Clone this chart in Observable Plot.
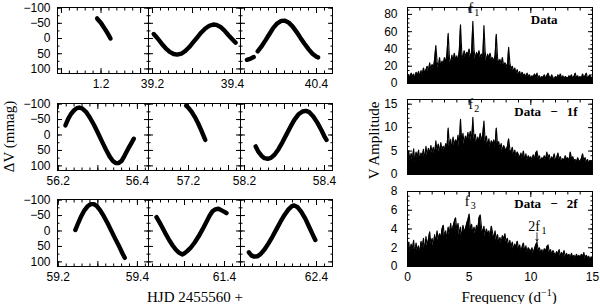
<!DOCTYPE html>
<html><head><meta charset="utf-8">
<script src="https://cdn.jsdelivr.net/npm/d3@7"></script>
<script src="https://cdn.jsdelivr.net/npm/@observablehq/plot@0.6"></script>
<style>
html,body{margin:0;padding:0;background:#fff;}
#chart{position:relative;width:600px;height:304px;overflow:hidden;background:#fff;}
.panel{position:absolute;}
.panel svg{overflow:visible;background:transparent !important;}
.ttl{position:absolute;font-family:"Liberation Serif",serif;font-size:15px;color:#000;white-space:nowrap;line-height:1;}
</style></head><body><div id="chart"></div>
<script>
// ---------- light curve data (HJD - 2455560, dV mmag) ----------
const lcA = [[1.190,-66],[1.196,-57],[1.202,-47],[1.208,-35],[1.214,-23],[1.219,-12],[1.224,0]];
const lcB = [[39.203,-15],[39.213,0],[39.223,17],[39.233,32],[39.243,44],[39.253,51],[39.262,53],[39.272,50],[39.282,41],[39.292,28],[39.302,12],[39.312,-4],[39.322,-20],[39.332,-33],[39.342,-42],[39.352,-46],[39.360,-45],[39.370,-38],[39.380,-26],[39.390,-11],[39.400,3],[39.408,14]];
const lcC = [[40.226,70],[40.234,67],[40.243,61],[40.249,NaN],[40.253,42],[40.262,27],[40.272,7],[40.282,-14],[40.292,-35],[40.302,-50],[40.312,-58],[40.320,-59],[40.330,-53],[40.340,-40],[40.350,-22],[40.360,-2],[40.370,17],[40.380,35],[40.390,50],[40.400,60],[40.404,62]];
const lcD = [[56.218,-31],[56.225,-52],[56.232,-68],[56.240,-80],[56.247,-87],[56.253,-89],[56.260,-86],[56.270,-75],[56.280,-56],[56.290,-33],[56.300,-7],[56.310,20],[56.320,46],[56.330,70],[56.338,84],[56.345,91],[56.352,91],[56.360,84],[56.368,66],[56.376,46],[56.384,28],[56.391,12]];
const lcE = [[57.194,-95],[57.200,-88],[57.208,-75],[57.216,-58],[57.224,-38],[57.232,-15],[57.240,10],[57.242,16]];
const lcF = [[58.228,37],[58.235,55],[58.243,68],[58.250,75],[58.258,77],[58.266,74],[58.275,64],[58.285,46],[58.295,23],[58.305,-2],[58.315,-27],[58.325,-50],[58.335,-67],[58.345,-76],[58.354,-78],[58.362,-74],[58.372,-60],[58.382,-40],[58.392,-16],[58.400,5],[58.405,16]];
const lcG = [[59.243,-3],[59.250,-25],[59.258,-48],[59.266,-67],[59.274,-80],[59.282,-87],[59.290,-87],[59.298,-80],[59.306,-67],[59.315,-48],[59.325,-24],[59.335,2],[59.345,28],[59.355,53],[59.362,72],[59.368,87]];
const lcH = [[61.230,-45],[61.238,-27],[61.246,-8],[61.254,12],[61.262,30],[61.270,46],[61.278,60],[61.286,70],[61.294,76],[61.300,72],[61.306,66],[61.315,55],[61.325,38],[61.335,18],[61.345,-5],[61.355,-30],[61.363,-50],[61.370,-64],[61.377,-70],[61.385,-72],[61.394,-66],[61.400,-62],[61.405,-58]];
const lcI = [[62.231,69],[62.237,79],[62.244,83],[62.252,82],[62.260,75],[62.270,60],[62.280,40],[62.290,18],[62.300,-6],[62.310,-30],[62.320,-52],[62.330,-70],[62.338,-80],[62.344,-83],[62.352,-78],[62.362,-62],[62.372,-40],[62.382,-12],[62.390,10],[62.397,29]];
const lightCurves = [lcA, lcB, lcC, lcD, lcE, lcF, lcG, lcH, lcI];
const lcStarts = [1.09, 39.19, 40.21, 56.198, 57.10, 58.19, 59.198, 61.21, 62.21];
const lcSpan = 0.23;
const lcTickLabels = [[1.2],[39.2,39.4],[40.4],[56.2,56.4],[57.2],[58.2,58.4],[59.2,59.4],[61.4],[62.4]];
const dvDomain = [-102, 115];
const dvTickLabels = [-100, -50, 0, 50, 100];

// ---------- amplitude spectra, 0..15 d^-1 in steps of 0.1 ----------
const freqStep = 0.1;
const ampData = [
 6,10,7,12,8,11,6,13,9,14,
 8,15,10,18,12,16,20,14,24,16,
 22,17,28,44,25,18,30,20,26,22,
 30,24,34,58,30,22,33,26,35,28,
 32,26,38,68,36,28,38,30,36,34,
 40,30,36,72,38,28,36,32,38,30,
 34,28,67,36,26,34,30,35,28,30,
 26,32,57,30,24,28,22,30,20,24,
 22,18,42,24,16,20,14,18,12,16,
 10,14,8,13,9,11,7,12,8,10,
 6,9,7,11,8,12,6,9,5,8,
 7,10,6,9,12,8,6,10,7,5,
 8,6,10,7,11,6,9,5,8,7,
 6,9,7,10,6,8,12,7,9,6,
 8,6,11,7,9,12,6,8,10,7,
 6];
const ampData1f = [
 3.5,5.0,2.8,4.5,3.2,5.5,2.5,4.8,3.6,5.2,
 3.0,4.6,3.8,5.4,3.2,6.0,4.0,5.6,4.4,6.2,
 4.6,5.8,4.2,7.2,5.0,6.5,4.6,6.8,5.4,6.0,
 5.2,6.6,5.6,9.9,6.0,7.5,5.4,8.0,6.2,7.4,
 6.6,8.4,6.0,11.8,7.0,8.8,6.4,8.2,7.2,9.0,
 7.6,9.2,6.8,12.2,7.4,8.6,6.6,8.0,7.0,8.8,
 7.2,8.4,11.4,7.0,8.2,6.2,7.6,5.8,7.2,6.4,
 7.4,6.0,9.9,6.4,7.0,5.4,6.6,5.0,6.2,5.6,
 5.2,6.0,7.6,5.4,4.6,5.8,4.2,5.2,3.8,4.8,
 4.2,3.6,4.6,3.4,5.0,3.2,4.4,3.0,4.0,3.4,
 3.8,3.0,4.2,3.2,4.6,5.0,3.4,4.0,2.8,3.6,
 3.2,4.0,3.0,4.8,3.6,4.2,2.8,3.8,3.2,4.4,
 3.0,3.6,4.6,3.2,3.8,2.8,3.4,3.0,4.0,3.2,
 3.6,2.8,4.8,3.4,3.8,3.0,3.2,2.6,3.6,3.0,
 2.8,3.4,4.4,3.0,3.6,2.6,3.2,2.4,3.0,2.8,
 2.6];
const ampData2f = [
 2.0,2.6,1.5,2.4,1.8,2.8,1.2,2.5,1.7,2.2,
 1.4,2.7,2.0,3.0,1.6,3.2,2.2,2.9,3.7,2.4,
 3.0,2.2,3.4,2.6,3.8,2.8,3.5,3.0,4.0,4.4,
 3.2,3.8,2.9,4.2,3.4,4.6,3.6,4.3,4.8,5.2,
 3.9,4.6,3.4,4.2,3.0,4.4,3.8,4.0,4.6,5.0,
 5.6,4.0,4.5,3.6,4.2,3.5,4.4,3.9,5.2,5.5,
 4.2,3.6,4.3,3.2,4.0,3.5,3.8,3.2,4.3,3.6,
 3.0,3.8,2.8,3.4,2.6,3.1,2.5,3.3,2.9,3.5,
 2.6,3.0,2.2,2.8,2.0,2.6,1.8,2.4,2.1,2.7,
 1.9,2.3,1.6,2.1,2.5,1.7,2.2,1.5,2.0,1.8,
 1.6,2.0,1.4,1.9,2.3,2.6,1.7,2.0,1.5,1.8,
 1.4,1.9,1.6,2.1,2.3,1.5,1.8,1.3,1.7,1.4,
 1.2,1.6,1.3,1.8,1.1,1.5,1.2,1.7,1.0,1.4,
 1.1,1.3,0.9,1.4,1.0,1.2,0.8,1.3,1.0,1.2,
 0.9,1.3,1.0,1.5,0.8,1.2,0.9,1.1,0.7,1.0,
 0.9];
const spectra = [ampData, ampData1f, ampData2f];
const spectrumNames = ["Data", "Data\u2002\u2009\u2212\u2002\u20091f", "Data\u2002\u2009\u2212\u2002\u20092f"];
const ampDomains = [[0, 88], [0, 16], [0, 8]];
const ampTickLabels = [[0,20,40,60,80],[0,5,10,15],[0,2,4,6,8]];
const ampMinorStep = [5, 1, 0.5];
const freqTickLabels = [0, 5, 10, 15];
// peak annotations: [frequency, amplitude, name, subscript]
const peakNotes = [[[5.3, 72, "f", "1"]], [[5.3, 12.2, "f", "2"]], [[5.0, 5.6, "f", "3"]]];
const harmonicNote = [10.5, 2.6, "2f", "1"];

// ---------- layout ----------
const leftCols = [57, 148, 240, 332];
const leftRows = [[7, 73], [103, 170], [199, 266]];
const rightCols = [407, 592];
const rightRows = [[7, 83], [99, 174], [191, 266]];

const chart = document.getElementById("chart");
const fmtSigned = d => d < 0 ? "\u2212" + Math.abs(d) : String(d);
function place(svg, left, top, w, h) {
  const d = document.createElement("div");
  d.className = "panel";
  d.style.left = left + "px"; d.style.top = top + "px";
  d.style.width = w + "px"; d.style.height = h + "px";
  d.appendChild(svg);
  chart.appendChild(d);
}
function boxTicks(xMajor, xMinor, yMajor, yMinor) {
  const m = [];
  for (const anchor of ["top", "bottom"]) {
    m.push(Plot.axisX({anchor, ticks: xMinor, tickSize: -2.5, tickFormat: () => "", label: null}));
    m.push(Plot.axisX({anchor, ticks: xMajor, tickSize: -5, tickFormat: () => "", label: null}));
  }
  for (const anchor of ["left", "right"]) {
    m.push(Plot.axisY({anchor, ticks: yMinor, tickSize: -2.5, tickFormat: () => "", label: null}));
    m.push(Plot.axisY({anchor, ticks: yMajor, tickSize: -5, tickFormat: () => "", label: null}));
  }
  return m;
}

// ---------- light-curve panels ----------
lightCurves.forEach((lc, i) => {
  const r = Math.floor(i / 3), c = i % 3;
  const x0 = leftCols[c], x1 = leftCols[c + 1];
  const [y0, y1] = leftRows[r];
  const w = x1 - x0, h = y1 - y0;
  const dom = [lcStarts[i], lcStarts[i] + lcSpan];
  const xMajor = d3.range(Math.ceil(dom[0] * 10 - 1e-6), Math.floor(dom[1] * 10 + 1e-6) + 1).map(k => k / 10);
  const xMinor = d3.range(Math.ceil(dom[0] * 50 - 1e-6), Math.floor(dom[1] * 50 + 1e-6) + 1).map(k => k / 50);
  const yMinor = d3.range(-100, 101, 25);
  const marks = [
    Plot.frame({stroke: "#000", strokeWidth: 1}),
    ...boxTicks(xMajor, xMinor, dvTickLabels, yMinor),
    Plot.axisX({anchor: "bottom", ticks: lcTickLabels[i], tickSize: 0, tickPadding: 6, tickFormat: d3.format(".1f"), label: null, fontSize: 12}),
    Plot.line(lc, {x: d => d[0], y: d => d[1], stroke: "#000", strokeWidth: 4.4, strokeLinecap: "round", strokeLinejoin: "round"})
  ];
  if (c === 0) marks.push(Plot.axisY({anchor: "left", ticks: dvTickLabels, tickSize: 0, tickPadding: 7, tickFormat: fmtSigned, label: null, fontSize: 12}));
  const svg = Plot.plot({
    width: w, height: h, marginTop: 0, marginBottom: 0, marginLeft: 0, marginRight: 0,
    style: {overflow: "visible", background: "transparent", fontFamily: "Liberation Sans, sans-serif", fontSize: "12px", color: "#000"},
    x: {domain: dom, axis: null, label: null},
    y: {domain: dvDomain, reverse: true, axis: null, label: null},
    marks
  });
  place(svg, x0, y0, w, h);
});

// ---------- spectrum panels ----------
spectra.forEach((amp, i) => {
  const [y0, y1] = rightRows[i];
  const x0 = rightCols[0], w = rightCols[1] - rightCols[0], h = y1 - y0;
  const rows = amp.map((a, k) => ({f: k * freqStep, a}));
  const dom = ampDomains[i];
  const yMinor = d3.range(0, dom[1] + 1e-6, ampMinorStep[i]);
  const marks = [
    Plot.areaY(rows, {x: "f", y: "a", fill: "#000"}),
    Plot.line(rows, {x: "f", y: "a", stroke: "#000", strokeWidth: 1.1}),
    Plot.frame({stroke: "#000", strokeWidth: 1}),
    ...boxTicks(freqTickLabels, d3.range(0, 16), ampTickLabels[i], yMinor),
    Plot.axisY({anchor: "left", ticks: ampTickLabels[i], tickSize: 0, tickPadding: 10, tickFormat: d => String(d), label: null, fontSize: 12}),
    Plot.text([spectrumNames[i]], {frameAnchor: "top-right", dx: i === 0 ? -35 : -15, dy: 7, text: d => d, textAnchor: "end", lineAnchor: "top", fontFamily: "Liberation Serif, serif", fontSize: 13, fontWeight: "bold"}),
    Plot.text(peakNotes[i], {x: d => d[0], y: d => d[1], text: d => d[2], dy: -8, dx: -2, lineAnchor: "bottom", fontFamily: "Liberation Serif, serif", fontSize: 14}),
    Plot.text(peakNotes[i], {x: d => d[0], y: d => d[1], text: d => d[3], dy: -5, dx: 4, lineAnchor: "bottom", fontFamily: "Liberation Serif, serif", fontSize: 10})
  ];
  if (i === 2) {
    marks.push(Plot.axisX({anchor: "bottom", ticks: freqTickLabels, tickSize: 0, tickPadding: 6, tickFormat: d => String(d), label: null, fontSize: 12}));
    marks.push(Plot.arrow([harmonicNote], {x1: d => d[0], x2: d => d[0], y1: d => d[1] + 1.0, y2: d => d[1] + 0.1, stroke: "#000", strokeWidth: 0.8, headLength: 4}));
    marks.push(Plot.text([harmonicNote], {x: d => d[0], y: d => d[1] + 1.0, text: d => d[2], dy: -2, dx: -3, lineAnchor: "bottom", fontFamily: "Liberation Serif, serif", fontSize: 14}));
    marks.push(Plot.text([harmonicNote], {x: d => d[0], y: d => d[1] + 1.0, text: d => d[3], dy: 1, dx: 7, lineAnchor: "bottom", fontFamily: "Liberation Serif, serif", fontSize: 10}));
  }
  const svg = Plot.plot({
    width: w, height: h, marginTop: 0, marginBottom: 0, marginLeft: 0, marginRight: 0,
    style: {overflow: "visible", background: "transparent", fontFamily: "Liberation Sans, sans-serif", fontSize: "12px", color: "#000"},
    x: {domain: [0, 15], axis: null, label: null},
    y: {domain: dom, axis: null, label: null},
    marks
  });
  place(svg, x0, y0, w, h);
});

// ---------- axis titles ----------
function title(html, cx, cy, rotate) {
  const d = document.createElement("div");
  d.className = "ttl";
  d.innerHTML = html;
  chart.appendChild(d);
  const bw = d.offsetWidth, bh = d.offsetHeight;
  d.style.left = (cx - bw / 2) + "px";
  d.style.top = (cy - bh / 2) + "px";
  if (rotate) d.style.transform = "rotate(-90deg)";
}
title("\u0394V (mmag)", 9, 136, true);
title("HJD 2455560 +", 195, 297, false);
title("V Amplitude", 375, 140, true);
title("Frequency (d<sup style='font-size:10px;vertical-align:6px;line-height:0'>\u22121</sup>)", 509, 297, false);
</script></body></html>
